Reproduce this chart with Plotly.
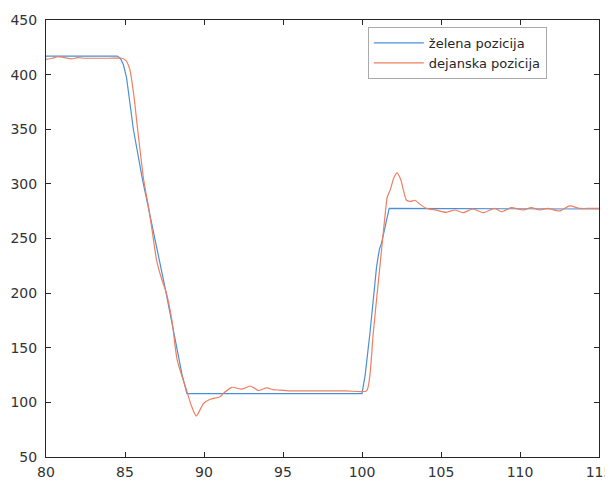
import plotly.graph_objects as go

# Setpoint ("želena pozicija")
zel_x = [80, 84.5, 84.7, 84.9, 85.1, 85.3, 85.53, 86.08, 86.6, 87.1, 87.55, 87.9, 88.3, 88.6, 88.92,
         100.0, 100.2, 100.5, 100.92, 101.1, 101.24, 101.4, 101.72, 115]
zel_y = [417, 417, 415, 409, 397, 377, 350, 306, 271, 237, 204, 178, 148, 126, 108,
         108, 125, 163, 224, 240, 246, 256, 277.5, 277]

# Actual position ("dejanska pozicija")
dej_x = [80, 80.4, 80.75, 81.2, 81.6, 82.0, 82.5, 83, 84, 84.8, 85.05, 85.3, 85.55, 85.8, 86.18,
         86.5, 86.75, 87.0, 87.34, 87.6, 87.97, 88.3, 88.92, 89.2, 89.51, 89.97, 90.39, 91.02,
         91.23, 91.76, 92.29, 92.6, 92.92, 93.2, 93.44, 93.97, 94.4, 94.81, 95.5, 97, 99, 100.29,
         100.5, 100.71, 101.13, 101.45, 101.6, 101.8, 102.0, 102.22, 102.45, 102.82, 103.1,
         103.34, 103.7, 104.08, 104.7, 105.34, 105.87, 106.39, 107.02, 107.66, 108.4, 108.82,
         109.45, 110.18, 110.71, 111.24, 111.76, 112.5, 113.13, 113.76, 114.4, 115]
dej_y = [414, 415, 416.5, 415.5, 414.5, 415.5, 415, 415, 415, 415, 413, 405, 382, 350, 304,
         278, 254, 230, 212, 201, 175, 139, 110, 97, 87.5, 99, 102.8, 105.2,
         108.3, 113.8, 112.2, 113, 115, 113, 110.7, 113.2, 111.5, 111.3, 110.5, 110.5, 110.5, 110.5,
         125, 163, 224, 270, 288, 295, 305, 310, 304, 285, 284,
         285, 281, 277.6, 276, 274, 276.1, 273.6, 277, 273.6, 277.6, 274.5,
         278.2, 276.1, 278.2, 276.1, 277.6, 275.2, 279.8, 277.6, 277.5, 277.5]

x_ticks = [80, 85, 90, 95, 100, 105, 110, 115]
y_ticks = [50, 100, 150, 200, 250, 300, 350, 400, 450]

FONT = "DejaVu Sans, Verdana, sans-serif"

fig = go.Figure()
fig.add_trace(go.Scatter(x=zel_x, y=zel_y, mode="lines", name="želena pozicija",
                         line=dict(color="#4A90D6", width=1.2)))
fig.add_trace(go.Scatter(x=dej_x, y=dej_y, mode="lines", name="dejanska pozicija",
                         line=dict(color="#EE7F60", width=1.2, shape="spline", smoothing=0.6)))

axis_common = dict(showgrid=False, zeroline=False, showline=True, linecolor="#262626",
                   linewidth=1, mirror="ticks", ticks="inside", ticklen=5, tickcolor="#262626",
                   automargin=False,
                   tickfont=dict(family=FONT, size=14, color="#333333"))

fig.update_xaxes(range=[80, 115], tickvals=x_ticks, ticklabelstandoff=2, **axis_common)
fig.update_yaxes(range=[50, 450], tickvals=y_ticks, ticklabelstandoff=5, **axis_common)

# page body adds an 8px offset, so the figure is sized to fit inside the window
fig.update_layout(
    width=605, height=474,
    margin=dict(l=37.5, r=13.5, t=12, b=25),
    plot_bgcolor="white", paper_bgcolor="white",
    font=dict(family=FONT, size=13, color="#262626"),
    legend=dict(x=0.582, y=0.984, xanchor="left", yanchor="top",
                bgcolor="white", bordercolor="#AAAAAA", borderwidth=1,
                itemwidth=50,
                font=dict(family=FONT, size=13, color="#262626"), tracegroupgap=0),
    showlegend=True,
)

fig.write_html("out.html")
